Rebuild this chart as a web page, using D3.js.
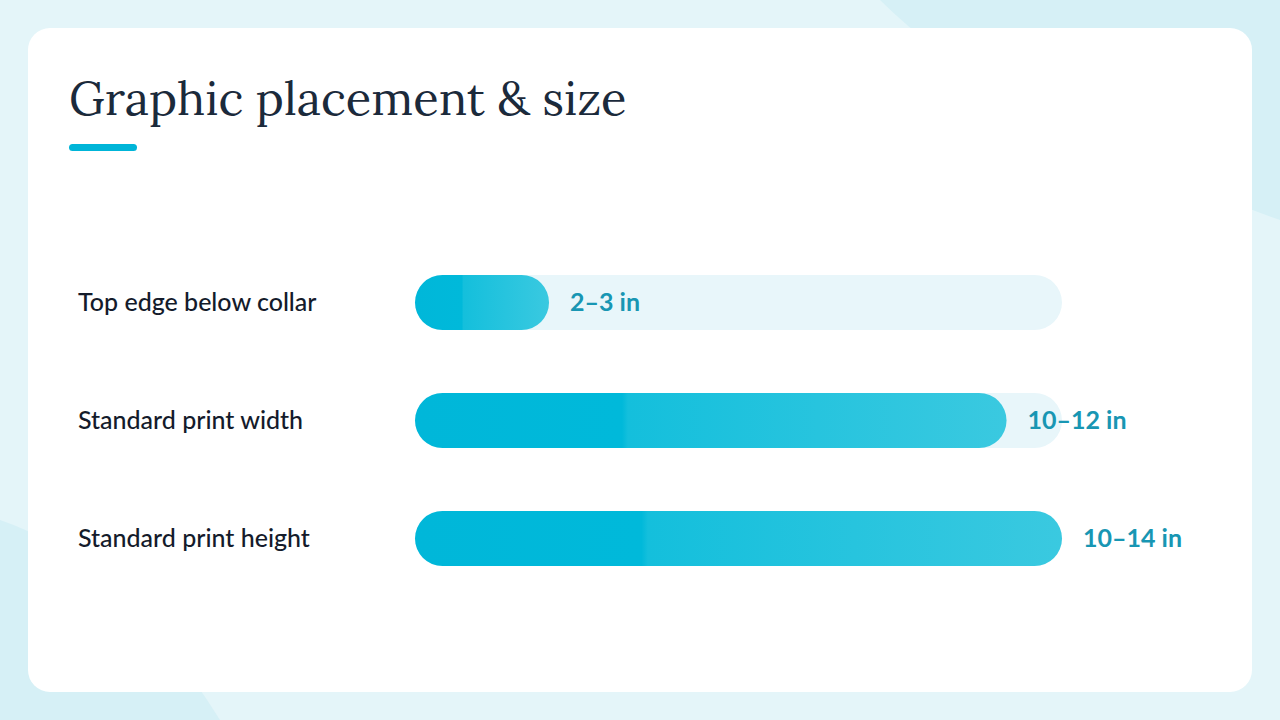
<!DOCTYPE html>
<html><head><meta charset="utf-8">
<script src="https://cdn.jsdelivr.net/npm/d3@7"></script>
<style>body{margin:0;background:#e3f4f8;overflow:hidden}</style>
</head><body>
<svg id="c" width="1280" height="720"></svg>
<script>
const categories = ["Top edge below collar","Standard print width","Standard print height"];
const values = [2.9, 12.8, 14];
const valueLabels = ["2–3 in","10–12 in","10–14 in"];
const maxValue = 14;

const svg = d3.select("#c");
svg.append("rect").attr("width",1280).attr("height",720).attr("fill","#e4f5f9");
svg.append("path").attr("d","M880,0 L1280,0 L1280,220 Q1000,120 880,0Z").attr("fill","#d6f0f6");
svg.append("path").attr("d","M0,520 Q120,560 220,720 L0,720Z").attr("fill","#d6f0f6");
svg.append("rect").attr("x",28).attr("y",28).attr("width",1224).attr("height",664).attr("rx",22).attr("fill","#fff");

svg.append("text").attr("x",69).attr("y",115).text("Graphic placement & size")
  .attr("font-family","Lora, 'DejaVu Serif', serif").attr("font-size",47).attr("fill","#1b2a3b");
svg.append("rect").attr("x",69).attr("y",144).attr("width",68).attr("height",7).attr("rx",3.5).attr("fill","#00b5d8");

const defs = svg.append("defs");
const g = defs.append("linearGradient").attr("id","gr").attr("x1","0").attr("x2","1");
g.append("stop").attr("offset","0").attr("stop-color","#00b7d9");
g.append("stop").attr("offset","0.35").attr("stop-color","#00b9da");
g.append("stop").attr("offset","0.36").attr("stop-color","#14bfdc");
g.append("stop").attr("offset","1").attr("stop-color","#3ac9e0");

const x = d3.scaleLinear().domain([0,maxValue]).range([415,1062]);
const y = d3.scaleBand().domain(categories).range([275,566]).paddingInner(0.534).paddingOuter(0);
const bh = y.bandwidth();

const row = svg.selectAll("g.row").data(categories).join("g");
row.append("rect").attr("x",x(0)).attr("y",d=>y(d)).attr("width",x(maxValue)-x(0)).attr("height",bh)
  .attr("rx",bh/2).attr("fill","#e8f6fa");
row.append("rect").attr("x",x(0)).attr("y",d=>y(d)).attr("width",(d,i)=>x(values[i])-x(0)).attr("height",bh)
  .attr("rx",bh/2).attr("fill","url(#gr)");
row.append("text").attr("x",78).attr("y",d=>y(d)+bh/2).attr("dy","0.35em").text(d=>d)
  .attr("font-family","Lato, 'Open Sans', sans-serif").attr("font-size",25).attr("font-weight",500).attr("fill","#141b2b");
row.append("text").attr("x",(d,i)=>x(values[i])+21).attr("y",d=>y(d)+bh/2).attr("dy","0.35em").text((d,i)=>valueLabels[i])
  .attr("font-family","Lato, 'Open Sans', sans-serif").attr("font-size",25).attr("font-weight",700).attr("fill","#1896b3");
</script>
</body></html>
